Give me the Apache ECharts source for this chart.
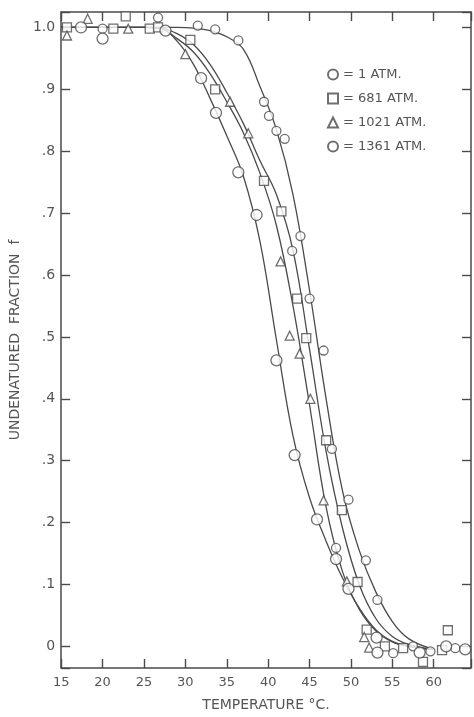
<!DOCTYPE html>
<html>
<head>
<meta charset="utf-8">
<script src="https://cdn.jsdelivr.net/npm/echarts@6/dist/echarts.min.js"></script>
<style>
  html, body { margin: 0; padding: 0; background: #fff; }
  #chart { width: 474px; height: 717px; }
</style>
</head>
<body>
<div id="chart"></div>
<script>
(function () {
    "use strict";

    /*---- tick labels ----*/
    var xTickValues = [15, 20, 25, 30, 35, 40, 45, 50, 55, 60];
    var xTickLabels = ['15', '20', '25', '30', '35', '40', '45', '50', '55', '60'];
    var yTickTenths = [0, 1, 2, 3, 4, 5, 6, 7, 8, 9, 10];
    var yTickLabels = ['0', '.1', '.2', '.3', '.4', '.5', '.6', '.7', '.8', '.9', '1.0'];

    /*---- measured points ----*/
    var atm1T = [20.0, 26.7, 31.5, 33.6, 36.4, 39.5, 40.1, 41.0, 42.0, 42.9, 43.9, 45.0, 46.7, 47.7, 48.2, 49.7, 51.8, 53.2, 55.1, 57.5, 59.6, 62.6];
    var atm1F = [0.998, 1.016, 1.003, 0.997, 0.979, 0.88, 0.857, 0.833, 0.82, 0.639, 0.663, 0.562, 0.478, 0.319, 0.159, 0.237, 0.139, 0.075, -0.011, 0.0, -0.008, -0.003];

    var atm681T = [15.7, 21.3, 22.8, 25.7, 26.7, 30.6, 33.6, 39.5, 41.6, 43.5, 44.6, 47.0, 48.9, 50.8, 51.9, 54.1, 56.3, 58.7, 61.0, 61.7];
    var atm681F = [1.0, 0.998, 1.018, 0.998, 1.0, 0.98, 0.90, 0.752, 0.703, 0.562, 0.498, 0.333, 0.22, 0.104, 0.027, 0.0, -0.003, -0.025, -0.006, 0.026];

    var atm1021T = [15.7, 18.2, 23.1, 30.0, 35.4, 37.6, 41.5, 42.6, 43.8, 45.1, 46.7, 49.5, 51.6, 52.2];
    var atm1021F = [0.987, 1.014, 0.998, 0.957, 0.88, 0.829, 0.622, 0.502, 0.473, 0.40, 0.236, 0.105, 0.015, -0.002];

    var atm1361T = [17.4, 20.0, 27.6, 31.9, 33.7, 36.4, 38.6, 41.0, 43.2, 45.9, 48.2, 49.7, 53.1, 53.2, 58.3, 61.5, 63.8];
    var atm1361F = [1.0, 0.982, 0.995, 0.918, 0.862, 0.766, 0.697, 0.462, 0.309, 0.205, 0.141, 0.093, 0.014, -0.01, -0.01, 0.0, -0.005];

    /*---- drawn curves ----*/
    var curveT     = [15, 25, 27, 29, 31, 33, 35, 37, 39, 41, 43, 45, 47, 49, 51, 53, 55, 57, 60];
    var curve1     = [1.0, 1.0, 1.0, 1.0, 0.999, 0.995, 0.985, 0.965, 0.905, 0.835, 0.73, 0.575, 0.40, 0.25, 0.155, 0.088, 0.04, 0.012, -0.005];
    var curve681   = [1.0, 1.0, 0.999, 0.99, 0.972, 0.94, 0.895, 0.845, 0.785, 0.73, 0.64, 0.48, 0.315, 0.19, 0.1, 0.045, 0.016, 0.003, -0.005];
    var curve1021  = [1.0, 1.0, 0.998, 0.982, 0.96, 0.925, 0.88, 0.83, 0.765, 0.68, 0.55, 0.39, 0.225, 0.12, 0.06, 0.025, 0.007, 0.0, -0.005];
    var curve1361  = [1.0, 1.0, 0.998, 0.978, 0.94, 0.885, 0.825, 0.76, 0.655, 0.495, 0.34, 0.24, 0.17, 0.11, 0.062, 0.027, 0.008, 0.0, -0.005];

    var ink = '#4a4a4a';
    var textInk = '#555';
    var font = 'DejaVu Sans';

    function pairs(xs, ys) {
        return xs.map(function (x, i) { return [x, ys[i]]; });
    }

    function curve(ys) {
        return {
            type: 'line',
            data: pairs(curveT, ys),
            smooth: 0.4,
            showSymbol: false,
            silent: true,
            z: 2,
            lineStyle: { color: ink, width: 1.3 }
        };
    }

    function points(name, xs, ys, symbol, size) {
        return {
            name: name,
            type: 'scatter',
            data: pairs(xs, ys),
            symbol: symbol,
            symbolSize: size,
            z: 5,
            itemStyle: { color: '#fff', borderColor: ink, borderWidth: 1.3 }
        };
    }

    function xLabel(v) {
        var i = xTickValues.indexOf(v);
        return i >= 0 ? xTickLabels[i] : '';
    }
    function yLabel(v) {
        var t = Math.round(v * 10);
        if (Math.abs(v * 10 - t) > 1e-6) return '';
        var i = yTickTenths.indexOf(t);
        return i >= 0 ? yTickLabels[i] : '';
    }

    var frameLine = { show: true, onZero: false, lineStyle: { color: ink, width: 1.5 } };
    var frameTick = { show: true, inside: true, length: 9, lineStyle: { color: ink, width: 1.4 } };

    var option = {
        animation: false,
        backgroundColor: '#fff',
        grid: { left: 57, right: 3, top: 12, bottom: 44 },
        legend: {
            orient: 'vertical',
            left: 322,
            top: 63,
            itemGap: 11,
            itemWidth: 10,
            itemHeight: 10,
            data: ['1 ATM.', '681 ATM.', '1021 ATM.', '1361 ATM.'],
            formatter: '= {name}',
            textStyle: { color: textInk, fontSize: 13, fontFamily: font }
        },
        xAxis: [{
            type: 'value',
            min: 15,
            max: 64.5,
            interval: 5,
            position: 'bottom',
            name: 'TEMPERATURE °C.',
            nameLocation: 'middle',
            nameGap: 30,
            nameTextStyle: { color: textInk, fontSize: 14, fontFamily: font },
            axisLine: frameLine,
            axisTick: frameTick,
            splitLine: { show: false },
            axisLabel: { color: textInk, fontSize: 13, fontFamily: font, margin: 8, formatter: xLabel }
        }, {
            type: 'value',
            min: 15,
            max: 64.5,
            interval: 5,
            position: 'top',
            axisLine: frameLine,
            axisTick: frameTick,
            splitLine: { show: false },
            axisLabel: { show: false }
        }],
        yAxis: [{
            type: 'value',
            min: -0.035,
            max: 1.025,
            splitNumber: 10,
            position: 'left',
            name: 'UNDENATURED  FRACTION  f',
            nameLocation: 'middle',
            nameGap: 36,
            nameTextStyle: { color: textInk, fontSize: 14, fontFamily: font },
            axisLine: frameLine,
            axisTick: frameTick,
            splitLine: { show: false },
            axisLabel: { color: textInk, fontSize: 14, fontFamily: font, margin: 6, formatter: yLabel }
        }, {
            type: 'value',
            min: -0.035,
            max: 1.025,
            splitNumber: 10,
            position: 'right',
            axisLine: frameLine,
            axisTick: frameTick,
            splitLine: { show: false },
            axisLabel: { show: false }
        }],
        series: [
            curve(curve1),
            curve(curve681),
            curve(curve1021),
            curve(curve1361),
            points('1 ATM.', atm1T, atm1F, 'circle', 9),
            points('681 ATM.', atm681T, atm681F, 'rect', 9),
            points('1021 ATM.', atm1021T, atm1021F, 'triangle', 9),
            points('1361 ATM.', atm1361T, atm1361F, 'circle', 11)
        ]
    };

    var chart = echarts.init(document.getElementById('chart'), null, { renderer: 'canvas' });
    chart.setOption(option);
})();
</script>
</body>
</html>
